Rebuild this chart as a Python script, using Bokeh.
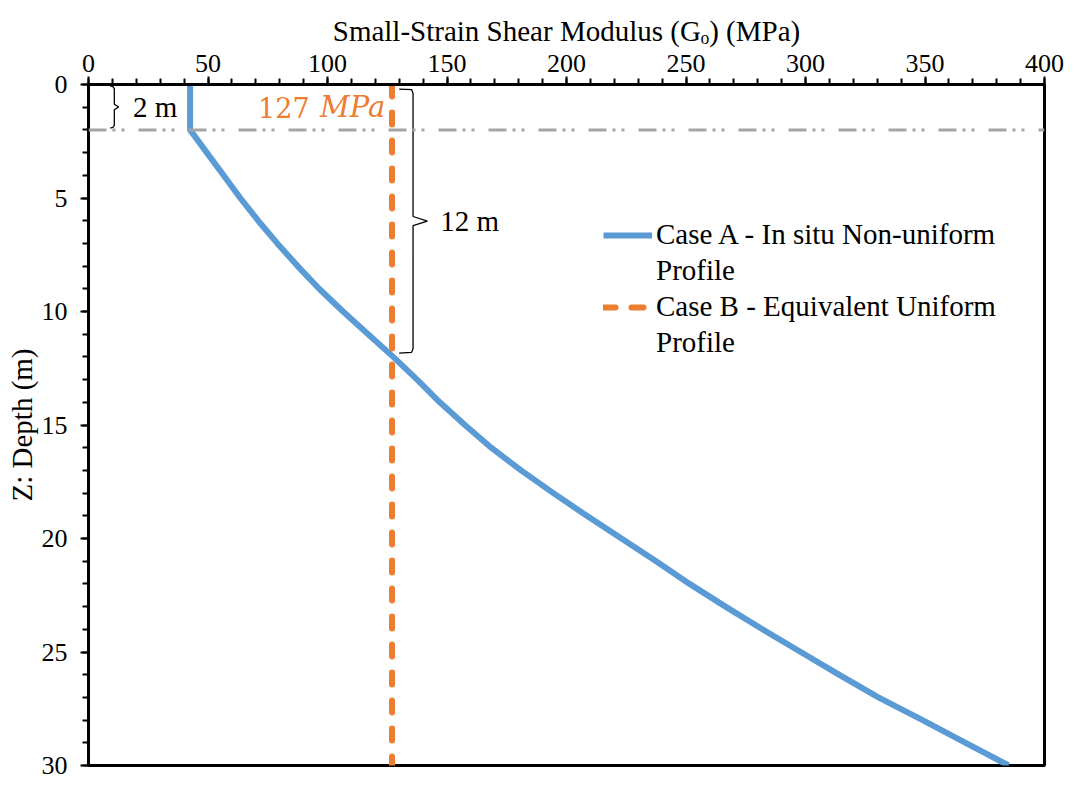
from bokeh.plotting import figure
from bokeh.models import (Range1d, SingleIntervalTicker, Span, Label, Legend,
                          LegendItem, ColumnDataSource)
from bokeh.embed import file_html
from bokeh.resources import INLINE

# ---------------- data ----------------
depth_a = [0, 2, 3, 4, 5, 6, 7, 8, 9, 10, 11, 12, 13, 14, 15, 16, 17, 18, 19,
           20, 21, 22, 23, 24, 25, 26, 27, 28, 29, 30]
gmod_a = [42.5, 42.5, 49.5, 56.5, 63.5, 71, 79, 87.5, 96.5, 106.5, 117, 127.5,
          137.5, 147, 157.5, 168.5, 181, 194.5, 208.5, 223, 237.5, 251.5,
          266.5, 282, 298, 314, 330.5, 349, 367, 385]
depth_b = [0, 30]
gmod_b = [127, 127]
layer_depths = [2, 12]
layer_labels = ["2 m", "12 m"]
equiv_value = 127
x_ticks_interval = 50
y_ticks_interval = 5

BLUE = "#5B9BD5"
ORANGE = "#ED7D31"
GRAY = "#A5A5A5"
SERIF = "Liberation Serif"

p = figure(width=1064, height=782, output_backend="svg", toolbar_location=None,
           x_range=Range1d(0, 400), y_range=Range1d(30, 0),
           x_axis_location="above", background_fill_color="white",
           border_fill_color="white")
p.min_border_left = 88
p.min_border_right = 20
p.min_border_top = 84
p.min_border_bottom = 17
p.grid.visible = False
p.outline_line_color = "black"
p.outline_line_width = 3

# axes
for ax, interval in ((p.xaxis[0], x_ticks_interval), (p.yaxis[0], y_ticks_interval)):
    ax.ticker = SingleIntervalTicker(interval=interval, num_minor_ticks=5)
    ax.axis_line_width = 3
    ax.axis_line_color = "black"
    ax.major_tick_in = 0
    ax.major_tick_out = 8
    ax.minor_tick_in = 0
    ax.minor_tick_out = 6
    ax.major_tick_line_width = 2
    ax.minor_tick_line_width = 2
    ax.major_tick_line_color = "black"
    ax.minor_tick_line_color = "black"
    ax.major_label_text_font = SERIF
    ax.major_label_text_font_size = "26px"
    ax.major_label_text_color = "black"
    ax.axis_label_text_font = SERIF
    ax.axis_label_text_font_size = "29px"
    ax.axis_label_text_font_style = "normal"
    ax.axis_label_text_color = "black"
p.xaxis.major_label_standoff = 5
p.yaxis.major_label_standoff = 13
p.xaxis.axis_label = "Small-Strain Shear Modulus (Gₒ) (MPa)"
p.xaxis.axis_label_standoff = 5
p.yaxis.axis_label = "Z: Depth (m)"
p.yaxis.axis_label_standoff = 1

# reference line at top layer depth
p.add_layout(Span(location=layer_depths[0], dimension="width", line_color=GRAY,
                  line_width=3, line_dash="18 6 3 6 3 14"))

# series
src_a = ColumnDataSource(dict(g=gmod_a, z=depth_a))
src_b = ColumnDataSource(dict(g=gmod_b, z=depth_b))
ra = p.line("g", "z", source=src_a, line_color=BLUE, line_width=6,
            line_join="round")
rb = p.line("g", "z", source=src_b, line_color=ORANGE, line_width=6,
            line_dash="12 16", line_cap="round")
# invisible renderer used only for the second line of the legend labels
r_blank = p.line(x=[], y=[], line_alpha=0)

# braces
def brace(x_end, x_spine, x_tip, z0, z1, curl):
    zm = (z0 + z1) / 2
    xs = [x_end, x_spine - 0.6, x_spine, x_spine, x_tip, x_spine, x_spine,
          x_spine - 0.6, x_end]
    zs = [z0, z0 + 0.03, z0 + curl, zm - curl, zm, zm + curl, z1 - curl,
          z1 - 0.03, z1]
    p.line(xs, zs, line_color="black", line_width=1.3)
    return zm

zm1 = brace(9.1, 10.8, 12.6, 0.06, layer_depths[0] - 0.08, 0.12)
zm2 = brace(130.0, 135.8, 141.8, 0.2, layer_depths[1] - 0.17, 0.2)

p.add_layout(Label(x=18.6, y=zm1, text=layer_labels[0], text_font=SERIF,
                   text_font_size="29px", text_baseline="middle",
                   text_color="black"))
p.add_layout(Label(x=147.2, y=zm2, text=layer_labels[1], text_font=SERIF,
                   text_font_size="29px", text_baseline="middle",
                   text_color="black"))

# 127 MPa label
p.add_layout(Label(x=equiv_value, y=layer_depths[0] / 2, x_offset=-134,
                   text=str(equiv_value), text_font="DejaVu Serif",
                   text_font_size="27px", text_baseline="middle",
                   text_align="left", text_color=ORANGE))
p.add_layout(Label(x=equiv_value, y=layer_depths[0] / 2, x_offset=-72,
                   text="MPa", text_font="DejaVu Serif", text_font_style="italic",
                   text_font_size="29px", text_baseline="middle",
                   text_align="left", text_color=ORANGE))

legend = Legend(items=[
    LegendItem(label="Case A - In situ Non-uniform", renderers=[ra]),
    LegendItem(label="Profile", renderers=[r_blank]),
    LegendItem(label="Case B - Equivalent Uniform", renderers=[rb]),
    LegendItem(label="Profile", renderers=[r_blank]),
], location=(515, 406), glyph_width=49, label_standoff=4, padding=0,
    margin=0, spacing=3, border_line_alpha=0, background_fill_alpha=0,
    label_text_font=SERIF, label_text_font_size="29px",
    label_text_color="black")
p.add_layout(legend)

open("out.html", "w").write(file_html(p, INLINE))
